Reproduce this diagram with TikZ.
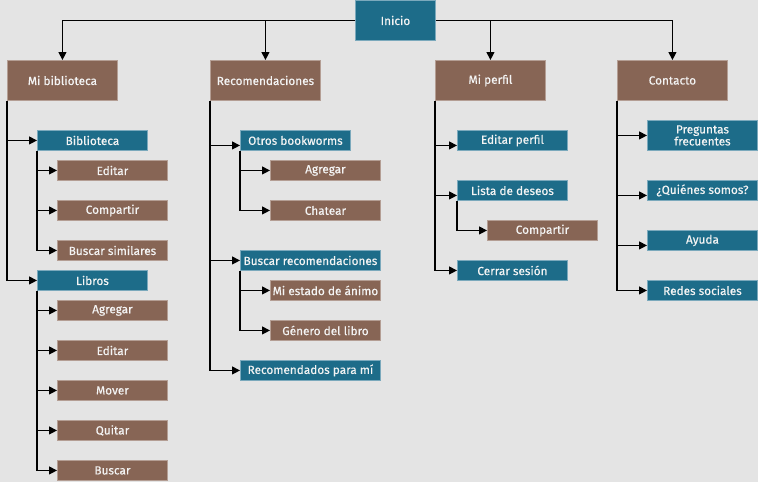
\documentclass[tikz,border=0pt]{standalone}
\usepackage{fontspec}
\setmainfont{Fira Sans}
\newfontfamily\labelfont{Fira Sans}[FakeBold=0.35]
\usetikzlibrary{arrows.meta}
\definecolor{bg}{HTML}{E4E4E4}
\definecolor{brownfill}{HTML}{876555}
\definecolor{brownline}{HTML}{B49E94}
\definecolor{bluefill}{HTML}{1D6C89}
\definecolor{blueline}{HTML}{7BA9BC}
\definecolor{labeltext}{HTML}{F4F4F4}
\tikzset{
  box/.style={rectangle, anchor=north west, inner sep=0pt, line width=0.9pt,
    text=labeltext, font=\labelfont\fontsize{11.8}{13}\selectfont, align=center},
  brownbox/.style={box, fill=brownfill, draw=brownline},
  bluebox/.style={box, fill=bluefill, draw=blueline},
  big/.style={minimum width=110pt, minimum height=40pt},
  small/.style={minimum width=110pt, minimum height=20pt},
  wide/.style={minimum width=140pt, minimum height=20pt},
  conn/.style={draw=black, line width=1.2pt,
    -{Triangle[length=8pt,width=8pt]}},
}
\begin{document}
\begin{tikzpicture}[x=1pt,y=-1pt]
\fill[bg] (0,0) rectangle (758,482);
\useasboundingbox (0,0) rectangle (758,482);

% root
\node[bluebox, minimum width=80pt, minimum height=40pt] (inicio) at (355,0) {Inicio};

% main sections
\node[brownbox, big] (mibib)  at (7,60)   {Mi biblioteca};
\node[brownbox, big] (recom)  at (210,60) {Recomendaciones};
\node[brownbox, big] (perfil) at (435,60) {Mi perfil};
\node[brownbox, big] (contacto) at (617,60) {Contacto};

% Mi biblioteca
\node[bluebox, small] (biblio) at (37,130) {Biblioteca};
\node[brownbox, small] (bEditar) at (57,160) {Editar};
\node[brownbox, small] (bCompartir) at (57,200) {Compartir};
\node[brownbox, small] (bSimilares) at (57,240) {Buscar similares};
\node[bluebox, small] (libros) at (37,270) {Libros};
\node[brownbox, small] (lAgregar) at (57,300) {Agregar};
\node[brownbox, small] (lEditar) at (57,340) {Editar};
\node[brownbox, small] (lMover) at (57,380) {Mover};
\node[brownbox, small] (lQuitar) at (57,420) {Quitar};
\node[brownbox, small] (lBuscar) at (57,460) {Buscar};

% Recomendaciones
\node[bluebox, small] (otros) at (240,130) {Otros bookworms};
\node[brownbox, small] (oAgregar) at (270,160) {Agregar};
\node[brownbox, small] (oChatear) at (270,200) {Chatear};
\node[bluebox, wide] (buscarRec) at (240,250) {Buscar recomendaciones};
\node[brownbox, small] (rAnimo) at (270,280) {Mi estado de ánimo};
\node[brownbox, small] (rGenero) at (270,320) {Género del libro};
\node[bluebox, wide] (paraMi) at (240,360) {Recomendados para mí};

% Mi perfil
\node[bluebox, small] (editPerfil) at (457,130) {Editar perfil};
\node[bluebox, small] (deseos) at (457,180) {Lista de deseos};
\node[brownbox, small] (dCompartir) at (487,220) {Compartir};
\node[bluebox, small] (cerrar) at (457,260) {Cerrar sesión};

% Contacto
\node[bluebox, minimum width=110pt, minimum height=30pt] (preguntas) at (647,120) {Preguntas\\[-1pt]frecuentes};
\node[bluebox, small] (quienes) at (647,180) {¿Quiénes somos?};
\node[bluebox, small] (ayuda) at (647,230) {Ayuda};
\node[bluebox, small] (redes) at (647,280) {Redes sociales};

% root connectors
\draw[conn] (inicio.west) -| (mibib.north);
\draw[conn] (inicio.west) -| (recom.north);
\draw[conn] (inicio.east) -| (perfil.north);
\draw[conn] (inicio.east) -| (contacto.north);

% Mi biblioteca connectors
\draw[conn] (mibib.south west) |- (biblio.west);
\draw[conn] (mibib.south west) |- (libros.west);
\foreach \c in {bEditar,bCompartir,bSimilares}
  \draw[conn] (biblio.south west) |- (\c.west);
\foreach \c in {lAgregar,lEditar,lMover,lQuitar,lBuscar}
  \draw[conn] (libros.south west) |- (\c.west);

% Recomendaciones connectors
\draw[conn] (recom.south west) |- ([yshift=-5pt]otros.west);
\draw[conn] (recom.south west) |- (buscarRec.west);
\draw[conn] (recom.south west) |- (paraMi.west);
\foreach \c in {oAgregar,oChatear}
  \draw[conn] (otros.south west) |- (\c.west);
\foreach \c in {rAnimo,rGenero}
  \draw[conn] (buscarRec.south west) |- (\c.west);

% Mi perfil connectors
\draw[conn] (perfil.south west) |- ([yshift=-5pt]editPerfil.west);
\draw[conn] (perfil.south west) |- ([yshift=-5pt]deseos.west);
\draw[conn] (perfil.south west) |- (cerrar.west);
\draw[conn] (deseos.south west) |- (dCompartir.west);

% Contacto connectors
\draw[conn] (contacto.south west) |- (preguntas.west);
\draw[conn] (contacto.south west) |- ([yshift=-5pt]quienes.west);
\draw[conn] (contacto.south west) |- ([yshift=-5pt]ayuda.west);
\draw[conn] (contacto.south west) |- (redes.west);
\end{tikzpicture}
\end{document}
